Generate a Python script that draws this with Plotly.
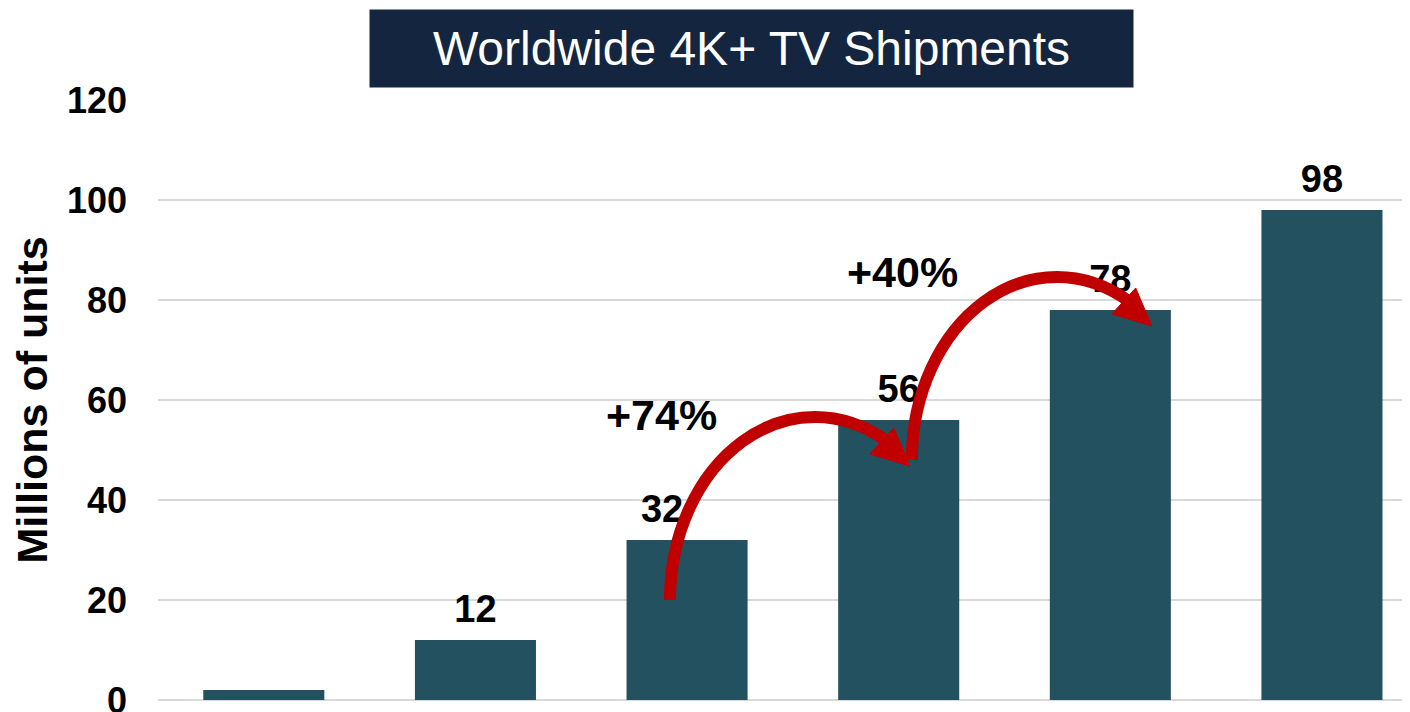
import numpy as np
import plotly.graph_objects as go

# ---------------- data ----------------
POSITIONS = [0, 1, 2, 3, 4, 5]
VALUES = [2, 12, 32, 56, 78, 98]
VALUE_LABELS = ["", "12", "32", "56", "78", "98"]
LABEL_X_SHIFT = [0, 0, -0.118, 0, 0, 0]   # "32" is nudged left of its bar
Y_TICKS = [0, 20, 40, 60, 80, 100, 120]
TITLE = "Worldwide 4K+ TV Shipments"
Y_TITLE = "Millions of units"

GROWTH_LABELS = ["+74%", "+40%"]
GROWTH_LABEL_X = [1.88, 3.02]
GROWTH_LABEL_Y = [57.0, 85.6]

# curved growth arrows (start points in data units)
ARROW_START_X = [1.919, 3.062]
ARROW_START_Y = [20.0, 48.0]

# ---------------- style ----------------
BAR_COLOR = "#23515F"
ARROW_COLOR = "#C00000"
TITLE_BG = "#14263F"
FONT = "Liberation Sans"

# arrow shape (data units, relative to its start)
ARC_A = 0.685      # horizontal half-width of the ellipse
ARC_B = 36.6       # vertical semi-axis
ARC_END_DEG = 120
HEAD = [(1.134, 26.8), (1.058, 34.4), (0.945, 29.2)]  # tip, base1, base2


def arc_path(sx, sy, a, b, t_end_deg, nseg=4):
    cx, cy = sx + a, sy
    t = np.radians(np.linspace(0, t_end_deg, nseg + 1))

    def p(tt):
        return cx - a * np.cos(tt), cy + b * np.sin(tt)

    def d(tt):
        return a * np.sin(tt), b * np.cos(tt)

    x0, y0 = p(t[0])
    s = f"M {x0:.5f},{y0:.5f}"
    for t0, t1 in zip(t[:-1], t[1:]):
        k = 4.0 / 3.0 * np.tan((t1 - t0) / 4.0)
        p0x, p0y = p(t0)
        p3x, p3y = p(t1)
        d0x, d0y = d(t0)
        d1x, d1y = d(t1)
        s += (f" C {p0x + k * d0x:.5f},{p0y + k * d0y:.5f}"
              f" {p3x - k * d1x:.5f},{p3y - k * d1y:.5f}"
              f" {p3x:.5f},{p3y:.5f}")
    return s


fig = go.Figure()

fig.add_trace(go.Bar(
    x=POSITIONS, y=VALUES, marker=dict(color=BAR_COLOR, line=dict(width=0)),
    hoverinfo="skip", showlegend=False,
))

fig.add_trace(go.Scatter(
    x=[p + s for p, s in zip(POSITIONS, LABEL_X_SHIFT)], y=VALUES,
    mode="markers+text", text=VALUE_LABELS,
    textposition="top center",
    marker=dict(size=12, opacity=0),
    textfont=dict(family=FONT, size=38, color="black", weight="bold"),
    hoverinfo="skip", showlegend=False, cliponaxis=False,
))

shapes = []
for sx, sy in zip(ARROW_START_X, ARROW_START_Y):
    shapes.append(dict(
        type="path", xref="x", yref="y", layer="above",
        path=arc_path(sx, sy, ARC_A, ARC_B, ARC_END_DEG),
        line=dict(color=ARROW_COLOR, width=12),
        fillcolor="rgba(0,0,0,0)",
    ))
    pts = [(sx + dx, sy + dy) for dx, dy in HEAD]
    shapes.append(dict(
        type="path", xref="x", yref="y", layer="above",
        path="M {:.5f},{:.5f} L {:.5f},{:.5f} L {:.5f},{:.5f} Z".format(
            pts[0][0], pts[0][1], pts[1][0], pts[1][1], pts[2][0], pts[2][1]),
        line=dict(color=ARROW_COLOR, width=1),
        fillcolor=ARROW_COLOR,
    ))

annotations = [dict(
    text=TITLE, xref="paper", yref="paper", x=0.4744, y=1.0858,
    xanchor="center", yanchor="middle", showarrow=False,
    bgcolor=TITLE_BG, width=763, height=77, borderpad=0,
    font=dict(family=FONT, size=48, color="white"),
)]
for lab, lx, ly in zip(GROWTH_LABELS, GROWTH_LABEL_X, GROWTH_LABEL_Y):
    annotations.append(dict(
        text=lab, x=lx, y=ly, xref="x", yref="y", showarrow=False,
        xanchor="center", yanchor="middle",
        font=dict(family=FONT, size=43, color="black", weight="bold"),
    ))

# the page body has an 8px margin, so the figure is sized/offset to compensate
fig.update_layout(
    width=1402, height=704,
    margin=dict(l=150, r=0, t=92, b=12, autoexpand=False),
    paper_bgcolor="white", plot_bgcolor="white",
    bargap=0.428,
    shapes=shapes, annotations=annotations,
    xaxis=dict(range=[-0.5, 5.416], showticklabels=False, showgrid=False,
               zeroline=False, showline=False, ticks="", automargin=False),
    yaxis=dict(range=[0, 120], tickvals=Y_TICKS, showgrid=True,
               gridcolor="#D9D9D9", gridwidth=2, zeroline=True,
               zerolinecolor="#D9D9D9", zerolinewidth=2, showline=False,
               ticks="", ticklabelstandoff=30, ticklabeloverflow="allow",
               automargin=False,
               tickfont=dict(family=FONT, size=36, color="black", weight="bold"),
               title=dict(text=Y_TITLE, standoff=11,
                          font=dict(family=FONT, size=43, color="black",
                                    weight="bold"))),
)

fig.write_html("out.html")
